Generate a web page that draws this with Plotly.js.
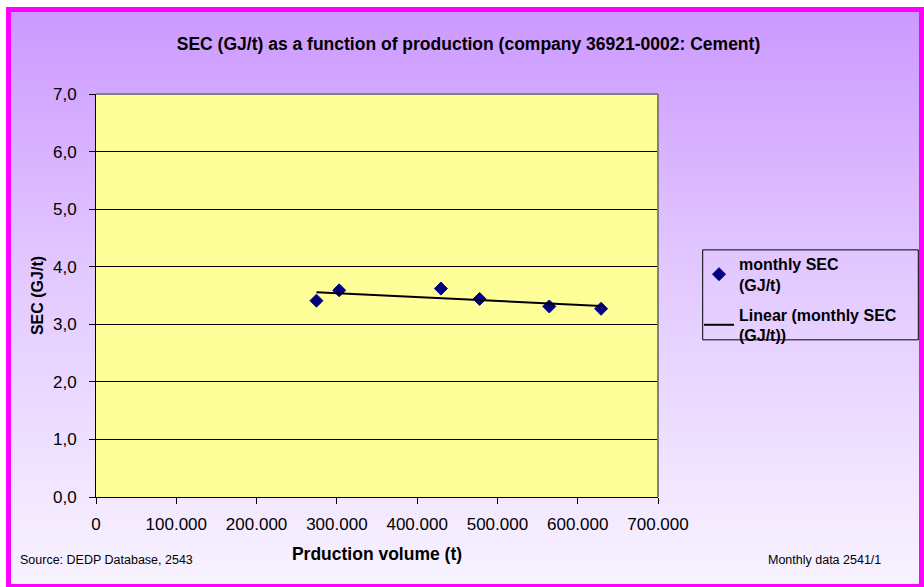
<!DOCTYPE html>
<html>
<head>
<meta charset="utf-8">
<script src="https://cdn.plot.ly/plotly-3.0.1.min.js"></script>
<style>
  html, body { margin: 0; padding: 0; background: #ffffff; }
  #wrap { position: relative; width: 924px; height: 587px; overflow: hidden; background: #ffffff; }
  #frame { position: absolute; left: 6px; top: 7px; width: 918px; height: 582px; box-sizing: border-box;
           border: 5px solid #ff00ff; background: linear-gradient(to bottom, #cc99ff 0%, #e2c8ff 45%, #f8f3ff 100%); }
  #chart { position: absolute; left: 0; top: 0; width: 924px; height: 587px; }
</style>
</head>
<body>
<div id="wrap">
  <div id="frame"></div>
  <div id="chart"></div>
</div>
<script>
// Data
var production = [274600, 302900, 429600, 477800, 564600, 629100]; // t
var monthlySEC = [3.41, 3.59, 3.62, 3.44, 3.31, 3.27];             // GJ/t
var xTickVals = [0, 100000, 200000, 300000, 400000, 500000, 600000, 700000];
var yTickVals = [0, 1, 2, 3, 4, 5, 6, 7];

// Linear trendline (least squares) of the monthly SEC series
function linearFit(xs, ys) {
  var n = xs.length, mx = 0, my = 0;
  for (var i = 0; i < n; i++) { mx += xs[i]; my += ys[i]; }
  mx /= n; my /= n;
  var sxy = 0, sxx = 0;
  for (var j = 0; j < n; j++) { sxy += (xs[j] - mx) * (ys[j] - my); sxx += (xs[j] - mx) * (xs[j] - mx); }
  var b = sxy / sxx, a = my - b * mx;
  return function (x) { return a + b * x; };
}
var fit = linearFit(production, monthlySEC);
var xMin = Math.min.apply(null, production), xMax = Math.max.apply(null, production);
var trendX = [xMin, xMax];
var trendY = trendX.map(fit);

var FONT = 'Liberation Sans, Arial, sans-serif';

var traces = [
  {
    x: production, y: monthlySEC, type: 'scatter', mode: 'markers',
    name: '<b>monthly SEC</b><br><b>(GJ/t)</b>', legendgroup: 'g1',
    marker: { symbol: 'diamond', size: 10, color: '#000080', line: { color: '#000080', width: 1 } }
  },
  {
    x: trendX, y: trendY, type: 'scatter', mode: 'lines',
    name: '<b>Linear (monthly SEC</b><br><b>(GJ/t))</b>', legendgroup: 'g2',
    line: { color: '#000000', width: 2 }
  }
];

var layout = {
  width: 924, height: 587,
  margin: { l: 96, r: 266, t: 94, b: 90, pad: 0 },
  paper_bgcolor: 'rgba(0,0,0,0)',
  plot_bgcolor: '#ffff99',
  separators: ',.',
  font: { family: FONT, color: '#000000', size: 17 },
  title: {
    text: '<b>SEC (GJ/t) as a function of production (company 36921-0002: Cement)</b>',
    font: { family: FONT, size: 17.5, color: '#000000' },
    xref: 'container', yref: 'container', x: 468.5 / 924, y: 1 - 44 / 587,
    xanchor: 'center', yanchor: 'middle'
  },
  xaxis: {
    range: [0, 700000], tickvals: xTickVals, tickformat: ',.0f',
    ticks: 'outside', ticklen: 6, tickcolor: '#000000', tickwidth: 1,
    showline: true, linecolor: '#000000', linewidth: 1, showgrid: false, zeroline: false,
    tickfont: { family: FONT, size: 17, color: '#000000' }, ticklabelstandoff: 6,
    title: { text: '<b>Prduction volume (t)</b>', font: { family: FONT, size: 17.5, color: '#000000' }, standoff: 14 },
    fixedrange: true
  },
  yaxis: {
    range: [0, 7], tickvals: yTickVals, tickformat: '.1f',
    ticks: 'outside', ticklen: 6, tickcolor: '#000000', tickwidth: 1,
    showline: true, linecolor: '#000000', linewidth: 1,
    showgrid: true, gridcolor: '#000000', gridwidth: 1, zeroline: false,
    tickfont: { family: FONT, size: 17, color: '#000000' }, ticklabelstandoff: 9,
    title: { text: '<b>SEC (GJ/t)</b>', font: { family: FONT, size: 16, color: '#000000' }, standoff: 5 },
    fixedrange: true
  },
  showlegend: true,
  legend: {
    x: (699 - 96) / 562, y: (497.3 - 247) / 403.3, xanchor: 'left', yanchor: 'top',
    bgcolor: 'rgba(0,0,0,0)', borderwidth: 0,
    font: { family: FONT, size: 16, color: '#000000' },
    itemwidth: 30, tracegroupgap: 6
  },
  shapes: [
    // plot-area grey border (top and right)
    { type: 'line', xref: 'paper', yref: 'paper', x0: 0, x1: 1, y0: 1, y1: 1, line: { color: '#808080', width: 2 } },
    { type: 'line', xref: 'paper', yref: 'paper', x0: 1, x1: 1, y0: 0, y1: 1, line: { color: '#808080', width: 2 } },
    // legend box
    { type: 'rect', xref: 'paper', yref: 'paper',
      x0: (702.7 - 96) / 562, x1: (918.3 - 96) / 562,
      y0: (497.3 - 340) / 403.3, y1: (497.3 - 250) / 403.3,
      line: { color: '#000000', width: 1 }, fillcolor: 'rgba(0,0,0,0)' }
  ],
  annotations: [
    { text: 'Source: DEDP Database, 2543', xref: 'paper', yref: 'paper',
      x: (18.3 - 96) / 562, y: (497.3 - 560.5) / 403.3, xanchor: 'left', yanchor: 'middle',
      showarrow: false, font: { family: FONT, size: 12.5, color: '#000000' } },
    { text: 'Monthly data 2541/1', xref: 'paper', yref: 'paper',
      x: (883.3 - 96) / 562, y: (497.3 - 560.5) / 403.3, xanchor: 'right', yanchor: 'middle',
      showarrow: false, font: { family: FONT, size: 12.5, color: '#000000' } }
  ]
};

Plotly.newPlot('chart', traces, layout, { displayModeBar: false, staticPlot: true });
</script>
</body>
</html>
